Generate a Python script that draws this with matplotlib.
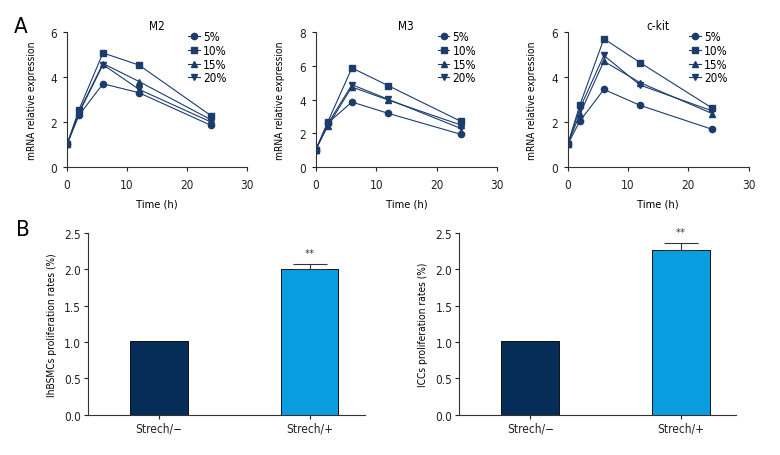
import matplotlib
matplotlib.use("Agg")
import matplotlib.pyplot as plt
import numpy as np

plt.rcParams['font.family'] = ['DejaVu Sans']
plt.rcParams['font.stretch'] = 'condensed'

# time course data (panel A)
times = [0, 2, 6, 12, 24]
groups = ["5%", "10%", "15%", "20%"]
markers = ["o", "s", "^", "v"]

m2 = {
    "5%":  [1.0, 2.30, 3.70, 3.30, 1.85],
    "10%": [1.0, 2.55, 5.07, 4.53, 2.28],
    "15%": [1.0, 2.45, 4.60, 3.80, 2.10],
    "20%": [1.0, 2.40, 4.55, 3.45, 2.00],
}
m3 = {
    "5%":  [1.0, 2.60, 3.85, 3.18, 1.94],
    "10%": [1.0, 2.67, 5.87, 4.82, 2.71],
    "15%": [1.0, 2.43, 4.74, 3.97, 2.49],
    "20%": [1.0, 2.55, 4.88, 4.01, 2.29],
}
ckit = {
    "5%":  [1.0, 2.03, 3.45, 2.74, 1.67],
    "10%": [1.0, 2.74, 5.70, 4.64, 2.61],
    "15%": [1.0, 2.34, 4.70, 3.75, 2.37],
    "20%": [1.0, 2.59, 4.96, 3.64, 2.49],
}

# bar data (panel B)
bar_labels = ["Strech/\u2212", "Strech/+"]
hbsmc_vals = [1.01, 2.00]
hbsmc_err = [0.0, 0.08]
icc_vals = [1.01, 2.27]
icc_err = [0.0, 0.10]

line_col = "#1c3c6c"
bar_cols = ["#062d57", "#0a9de0"]

fig = plt.figure(figsize=(7.8, 4.56), dpi=100)


def style_axes(ax):
    for s in ["top", "right"]:
        ax.spines[s].set_visible(False)
    for s in ["left", "bottom"]:
        ax.spines[s].set_linewidth(0.8)
        ax.spines[s].set_color("#333333")
    ax.tick_params(direction="out", length=3, width=0.8, labelsize=8.5, colors="#222222", pad=2)


def line_panel(rect, data, title, ymax, yticks):
    ax = fig.add_axes(rect)
    for g, m in zip(groups, markers):
        ax.plot(times, data[g], color=line_col, marker=m, markersize=4.5,
                linewidth=0.8, label=g)
    ax.set_xlim(0, 30)
    ax.set_ylim(0, ymax)
    ax.set_xticks([0, 10, 20, 30])
    ax.set_yticks(yticks)
    ax.set_title(title, fontsize=8.5, pad=0)
    ax.set_xlabel("Time (h)", fontsize=8, labelpad=5)
    ax.set_ylabel("mRNA relative expression", fontsize=7.3, labelpad=10)
    style_axes(ax)
    ax.tick_params(axis="x", pad=5)
    ax.tick_params(axis="y", pad=4)
    ax.legend(loc="upper left", bbox_to_anchor=(0.64, 1.055), frameon=False,
              fontsize=8.5, handlelength=1.0, handletextpad=0.25,
              labelspacing=0.05, borderpad=0)
    return ax


line_panel([0.0859, 0.6316, 0.2308, 0.296], m2, "M2", 6, [0, 2, 4, 6])
line_panel([0.4047, 0.6316, 0.2325, 0.296], m3, "M3", 8, [0, 2, 4, 6, 8])
line_panel([0.7278, 0.6316, 0.2320, 0.296], ckit, "c-kit", 6, [0, 2, 4, 6])


def bar_panel(rect, vals, errs, ylabel):
    ax = fig.add_axes(rect)
    x = np.arange(len(vals))
    ax.bar(x, vals, width=0.385, color=bar_cols, edgecolor="#111111", linewidth=0.7)
    ax.errorbar(x[1], vals[1], yerr=[[0], [errs[1]]], fmt="none",
                ecolor="#333333", elinewidth=0.8, capsize=12, capthick=0.8)
    ax.text(x[1], vals[1] + errs[1] + 0.15, "**", ha="center", va="center",
            fontsize=8, color="#333333")
    ax.set_xlim(-0.472, 1.368)
    ax.set_ylim(0, 2.5)
    ax.set_xticks(x)
    ax.set_xticklabels(bar_labels)
    ax.set_yticks([0, 0.5, 1.0, 1.5, 2.0, 2.5])
    ax.set_yticklabels(["0.0", "0.5", "1.0", "1.5", "2.0", "2.5"])
    ax.set_ylabel(ylabel, fontsize=7.3, labelpad=5)
    style_axes(ax)
    return ax


bar_panel([0.1128, 0.0884, 0.355, 0.398], hbsmc_vals, hbsmc_err,
          "lhBSMCs proliferation rates (%)")
bar_panel([0.5888, 0.0884, 0.355, 0.398], icc_vals, icc_err,
          "ICCs proliferation rates (%)")

fig.text(0.018, 0.941, "A", fontsize=16, va="center", ha="left")
fig.text(0.020, 0.4956, "B", fontsize=16, va="center", ha="left")

fig.savefig("out.png", dpi=100, facecolor="white")
